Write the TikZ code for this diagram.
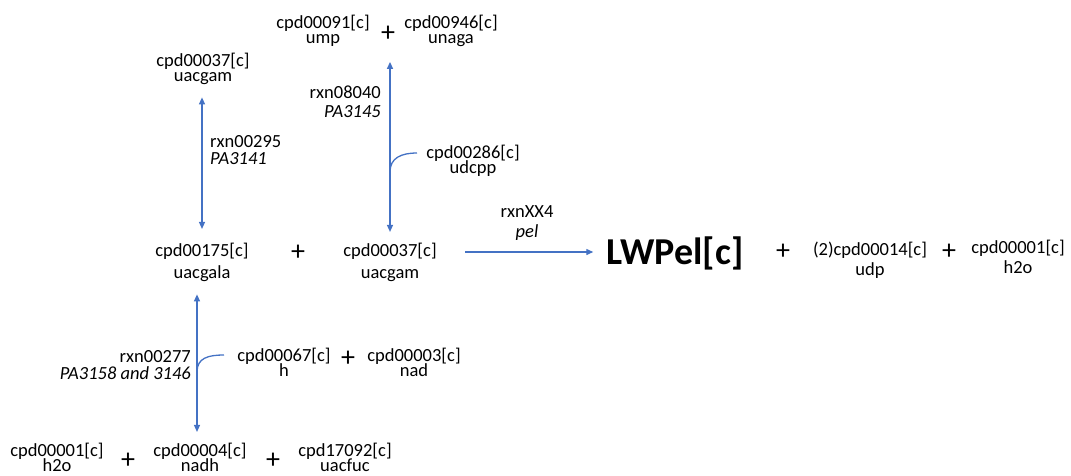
\documentclass[tikz,border=0pt]{standalone}
\usepackage{fontspec}
\setmainfont{Carlito}
\usepackage{tikz}
\usetikzlibrary{arrows.meta}

\definecolor{fluxblue}{RGB}{68,114,196}
\newcommand{\cpdfont}{\fontsize{18.5}{14.5}\selectfont\lineskiplimit=-50pt\relax}
\newcommand{\rowfont}{\fontsize{18.5}{21.5}\selectfont\lineskiplimit=-50pt\relax}
\newcommand{\prodfont}{\fontsize{18.5}{20}\selectfont\lineskiplimit=-50pt\relax}
\newcommand{\rxnfont}{\fontsize{18.5}{17}\selectfont\lineskiplimit=-50pt\relax}

\tikzset{
  cpd/.style={align=center, anchor=base, inner sep=0pt, font=\cpdfont},
  cpdmain/.style={cpd, font=\rowfont},
  cpdprod/.style={cpd, font=\prodfont},
  rxnlab/.style={inner sep=0pt, font=\rxnfont},
  plus/.style={inner sep=0pt, font=\fontsize{28}{28}\selectfont},
  flux/.style={draw=fluxblue, line width=1.3pt, >={Triangle[length=7pt,width=6pt]}}
}

\begin{document}
\begin{tikzpicture}[x=1pt, y=-1pt]
\useasboundingbox (0,0) rectangle (1071,475);

% products of rxn08040
\node[cpd] (ump) at (323,43) {cpd00091[c]\\ump};
\node[plus] (plustop) at (388,34) {+};
\node[cpd] (unaga) at (451,43) {cpd00946[c]\\unaga};
\node[cpd] (uacgamtop) at (203,81) {cpd00037[c]\\uacgam};
\node[cpd] (udcpp) at (473,173) {cpd00286[c]\\udcpp};

% main reaction
\node[cpdmain] (gala) at (202,278) {cpd00175[c]\\uacgala};
\node[plus] (plusa) at (298,253) {+};
\node[cpdmain] (gam) at (390,278) {cpd00037[c]\\uacgam};
\node[inner sep=0pt, anchor=base, font=\fontsize{38}{38}\selectfont\bfseries] (lwpel) at (675,264) {LWPel[c]};
\node[plus] (plusb) at (783,252) {+};
\node[cpdprod] (udp) at (870,275) {(2)cpd00014[c]\\udp};
\node[plus] (plusc) at (949,252) {+};
\node[cpdprod] (h2oright) at (1018,273) {cpd00001[c]\\h2o};

% rxn00277 side
\node[cpd] (hplus) at (284,376) {cpd00067[c]\\h};
\node[plus] (plusd) at (348,359) {+};
\node[cpd] (nad) at (414,376) {cpd00003[c]\\nad};
\node[cpd] (h2obot) at (57,471) {cpd00001[c]\\h2o};
\node[plus] (pluse) at (128,461) {+};
\node[cpd] (nadh) at (200,471) {cpd00004[c]\\nadh};
\node[plus] (plusf) at (273,461) {+};
\node[cpd] (uacfuc) at (345,471) {cpd17092[c]\\uacfuc};

% reaction labels
\node[rxnlab, anchor=base west, align=left] (rxna) at (210,164) {rxn00295\\\textit{PA3141}};
\node[rxnlab, anchor=base east, align=right] (rxnb) at (381,117) {rxn08040\\[2pt]\textit{PA3145}};
\node[rxnlab, anchor=base, align=center] (rxnc) at (527,237) {rxnXX4\\[3pt]\textit{pel}};
\node[rxnlab, anchor=base east, align=right] (rxnd) at (191,379) {rxn00277\\\textit{PA3158 and 3146}};

% arrows
\coordinate (r4start) at (465,252);
\draw[flux, <->, shorten <=13pt, shorten >=14pt] (gala.north |- uacgamtop.south) -- (gala.north);
\draw[flux, <->, shorten <=20pt, shorten >=11pt] (gam.north |- plustop.south) -- (gam.north);
\draw[flux, <->, shorten <=13pt, shorten >=11pt] ([xshift=-5pt]gala.south) -- ([xshift=-5pt]gala.south |- nadh.north);
\draw[flux, ->, shorten >=13pt] (r4start) -- (r4start -| lwpel.west);

% co-substrates
\draw[flux] (417,153) .. controls +(-16,0) and +(0,-14) .. (gam.north |- 0,172);
\draw[flux] (224,355) .. controls +(-16,0) and +(0,-14) .. ([xshift=-5pt]gala.south |- 0,372);
\end{tikzpicture}
\end{document}
